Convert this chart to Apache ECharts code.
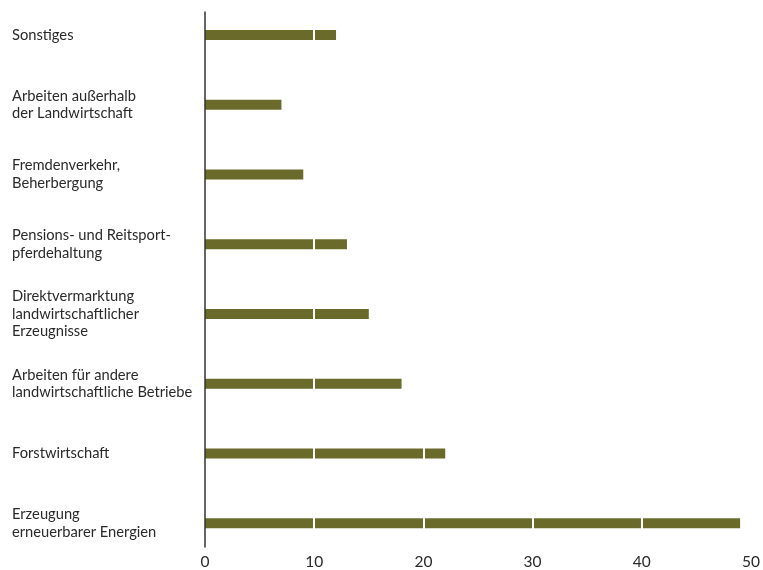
<!DOCTYPE html>
<html>
<head>
<meta charset="utf-8">
<script src="https://cdn.jsdelivr.net/npm/echarts@6/dist/echarts.min.js"></script>
<style>
  html, body { margin: 0; padding: 0; background: #fff; }
  #chart { width: 763px; height: 570px; }
</style>
</head>
<body>
<div id="chart"></div>
<script>
// Kategorien von unten nach oben
const categories = [
  'Erzeugung\nerneuerbarer Energien',
  'Forstwirtschaft',
  'Arbeiten für andere\nlandwirtschaftliche Betriebe',
  'Direktvermarktung\nlandwirtschaftlicher\nErzeugnisse',
  'Pensions- und Reitsport-\npferdehaltung',
  'Fremdenverkehr,\nBeherbergung',
  'Arbeiten außerhalb\nder Landwirtschaft',
  'Sonstiges'
]
const values = [49, 22, 18, 15, 13, 9, 7, 12]
const xTicks = [0, 10, 20, 30, 40, 50]

const chart = echarts.init(document.getElementById('chart'))
chart.setOption({
  animation: false,
  grid: [
    { left: 205, right: 11, top: -2, bottom: 10 },
    // nur für die kürzere senkrechte Achsenlinie
    { left: 205, right: 11, top: 12, bottom: 23 }
  ],
  xAxis: [
    {
      type: 'value',
      gridIndex: 0,
      min: xTicks[0],
      max: xTicks[xTicks.length - 1],
      interval: 10,
      z: 3, // weiße Gitterlinien über den Balken
      axisLine: { show: false },
      axisTick: { show: false },
      axisLabel: {
        color: '#2a2a2a',
        fontFamily: 'Lato',
        fontSize: 15.5,
        margin: -4
      },
      splitLine: {
        show: true,
        showMinLine: false,
        showMaxLine: false,
        lineStyle: { color: '#ffffff', width: 2 }
      }
    },
    { type: 'value', gridIndex: 1, show: false }
  ],
  yAxis: [
    {
      type: 'category',
      gridIndex: 0,
      data: categories,
      axisLine: { show: false },
      axisTick: { show: false },
      axisLabel: {
        color: '#2a2a2a',
        fontFamily: 'Lato',
        fontSize: 14.7,
        lineHeight: 17.5,
        align: 'left',
        margin: 193
      }
    },
    {
      type: 'value',
      gridIndex: 1,
      z: 4,
      axisLine: { show: true, lineStyle: { color: '#333', width: 1.5 } },
      axisTick: { show: false },
      axisLabel: { show: false },
      splitLine: { show: false }
    }
  ],
  series: [
    {
      type: 'bar',
      xAxisIndex: 0,
      yAxisIndex: 0,
      data: values,
      barWidth: 10,
      itemStyle: { color: '#6a6b2b' }
    }
  ]
})
</script>
</body>
</html>
